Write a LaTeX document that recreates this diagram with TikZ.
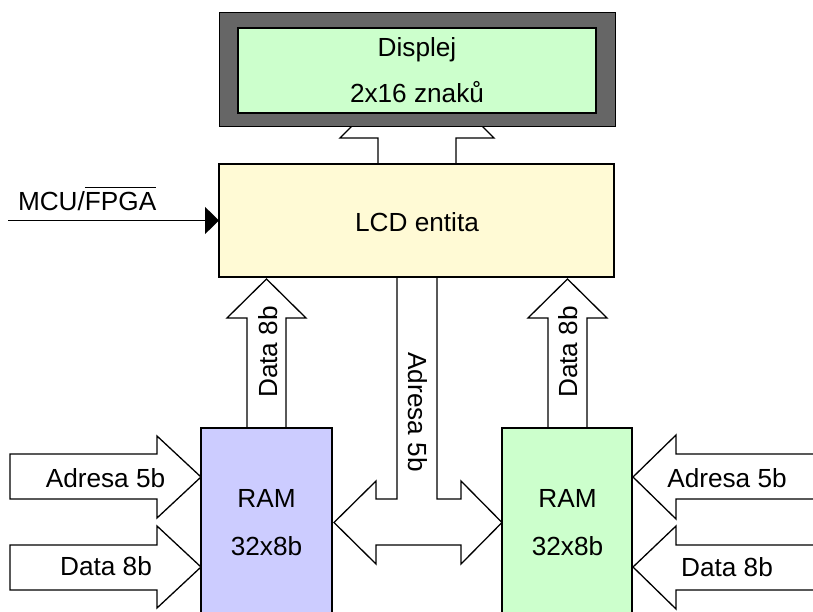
\documentclass[tikz,border=0pt]{standalone}
\usepackage{fontspec}
\setmainfont{Liberation Sans}
\usetikzlibrary{arrows.meta}
\definecolor{dispframe}{HTML}{666666}
\definecolor{dispfill}{HTML}{CCFFCC}
\definecolor{lcdfill}{HTML}{FFFAD5}
\definecolor{ramblue}{HTML}{CCCCFF}
\definecolor{ramgreen}{HTML}{CCFFCC}
% text with a bar over it (active-low signal name)
\newcommand\barred[1]{\vbox{\hrule height 1.2pt\kern 5pt\hbox{#1}}}
\begin{document}
\begin{tikzpicture}[x=1pt,y=-1pt,
  every node/.style={font=\fontsize{26.2}{30}\selectfont, inner sep=0pt, outer sep=0pt},
  box/.style={draw=black, line width=1.5pt, rectangle, anchor=north west},
  blockarrow/.style={draw=black, fill=white, line width=1.3pt, line join=miter},
  lbl/.style={anchor=base}]
\useasboundingbox (0,0) rectangle (813,612);
\clip (0,0) rectangle (813,612);

% bus from the LCD controller up to the display (tip hidden under the display)
\draw[blockarrow] (378,164) -- (378,138) -- (340,138) -- (417,61) -- (494,138)
  -- (456,138) -- (456,164);

% shared address bus: down from the controller, split into both RAMs
\draw[blockarrow] (397,277) -- (397,499) -- (376,499) -- (376,481) -- (334,522.5)
  -- (376,564) -- (376,545) -- (461,545) -- (461,564) -- (502,522.5) -- (461,481)
  -- (461,499) -- (437,499) -- (437,277);

% data buses from the RAMs up to the controller
\draw[blockarrow] (247,428) -- (247,318) -- (227,318) -- (266.5,279) -- (306,318)
  -- (286,318) -- (286,428);
\draw[blockarrow] (548,428) -- (548,318) -- (528,318) -- (567.5,279) -- (607,318)
  -- (587,318) -- (587,428);

% external inputs of the left RAM
\draw[blockarrow] (10,454) -- (157,454) -- (157,436) -- (201,477) -- (157,518)
  -- (157,499) -- (10,499) -- cycle;
\draw[blockarrow] (10,545) -- (157,545) -- (157,526) -- (201,567) -- (157,608)
  -- (157,590) -- (10,590) -- cycle;

% external inputs of the right RAM
\draw[blockarrow] (830,454) -- (676,454) -- (676,435) -- (633,477) -- (676,519)
  -- (676,499) -- (830,499);
\draw[blockarrow] (830,545) -- (676,545) -- (676,526) -- (633,567) -- (676,609)
  -- (676,590) -- (830,590);

% display module
\node[box, line width=1pt, fill=dispframe, minimum width=396pt, minimum height=114pt]
  (dispframe) at (219,13) {};
\node[box, line width=2pt, fill=dispfill, minimum width=358pt, minimum height=85pt]
  (display) at (238,28) {};

% LCD controller entity
\node[box, fill=lcdfill, minimum width=395pt, minimum height=113pt] (lcd) at (219,164) {};

% the two RAM blocks
\node[box, fill=ramblue, minimum width=131pt, minimum height=200pt] (ramL) at (201,428) {};
\node[box, fill=ramgreen, minimum width=130pt, minimum height=200pt] (ramR) at (502,428) {};

% mode select input
\coordinate (mcuin) at (8,220.5);
\draw[line width=1.5pt, -{Triangle[length=14pt,width=27pt]}] (mcuin) -- (lcd.west);
\node[anchor=base west] (mculbl) at (18,211) {MCU/\barred{FPGA}};

% labels
\node[lbl] (displbl1) at (417,57) {Displej};
\node[lbl] (displbl2) at (417,103) {2x16 znaků};
\node[lbl] (lcdlbl) at (417,232) {LCD entita};
\node[lbl] (ramLlbl1) at (266.5,507) {RAM};
\node[lbl] (ramLlbl2) at (266.5,555) {32x8b};
\node[lbl] (ramRlbl1) at (567.5,507) {RAM};
\node[lbl] (ramRlbl2) at (567.5,555) {32x8b};
\node[lbl, rotate=90] (dataLlbl) at (277,352) {Data 8b};
\node[lbl, rotate=90] (dataRlbl) at (577,352) {Data 8b};
\node[lbl, rotate=-90] (adrlbl) at (408,412) {Adresa 5b};
\node[lbl] (inLadr) at (105.5,487) {Adresa 5b};
\node[lbl] (inLdata) at (106,575) {Data 8b};
\node[lbl] (inRadr) at (727,487) {Adresa 5b};
\node[lbl] (inRdata) at (727,576) {Data 8b};
\end{tikzpicture}
\end{document}
